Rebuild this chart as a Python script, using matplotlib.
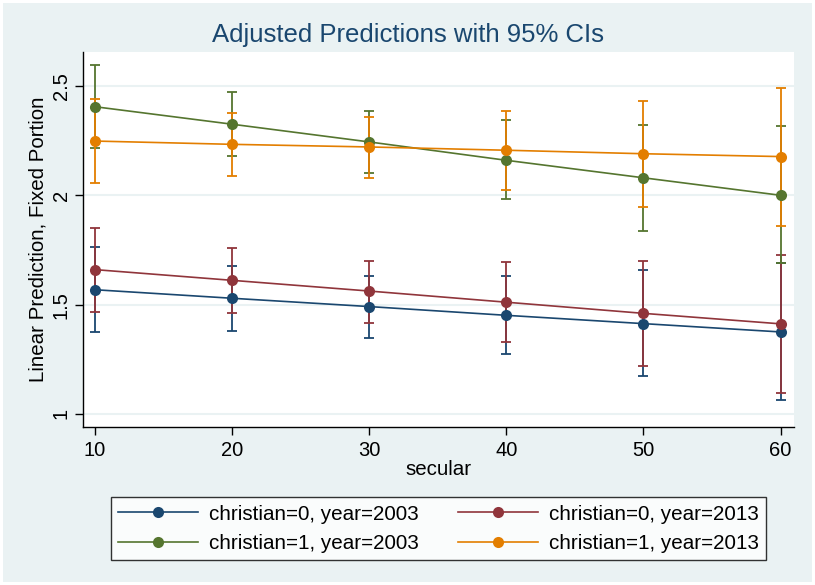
import matplotlib
matplotlib.use("Agg")
import matplotlib.pyplot as plt

# values (margins at secular = 10..60)
secular = [10, 20, 30, 40, 50, 60]

labels = ["christian=0, year=2003", "christian=0, year=2013",
          "christian=1, year=2003", "christian=1, year=2013"]

c0_2003 = [1.568, 1.529, 1.491, 1.451, 1.413, 1.375]
c0_2003_lo = [1.373, 1.380, 1.349, 1.274, 1.174, 1.063]
c0_2003_hi = [1.764, 1.678, 1.631, 1.631, 1.657, 1.692]

c0_2013 = [1.660, 1.611, 1.562, 1.511, 1.460, 1.412]
c0_2013_lo = [1.468, 1.462, 1.418, 1.329, 1.219, 1.097]
c0_2013_hi = [1.852, 1.758, 1.701, 1.694, 1.701, 1.726]

c1_2003 = [2.405, 2.325, 2.244, 2.160, 2.080, 2.000]
c1_2003_lo = [2.218, 2.180, 2.101, 1.983, 1.838, 1.689]
c1_2003_hi = [2.596, 2.471, 2.384, 2.343, 2.323, 2.315]

c1_2013 = [2.248, 2.233, 2.221, 2.206, 2.190, 2.177]
c1_2013_lo = [2.058, 2.088, 2.079, 2.026, 1.948, 1.861]
c1_2013_hi = [2.439, 2.378, 2.360, 2.384, 2.431, 2.489]

yticks = [1, 1.5, 2, 2.5]
ytick_labels = ["1", "1.5", "2", "2.5"]

# stata s2color palette
colors = ["#1a476f", "#90353b", "#55752f", "#e37e00"]
bg = "#eaf2f3"

plt.rcParams["font.family"] = ["Liberation Sans", "DejaVu Sans"]

fig = plt.figure(figsize=(8.15, 5.85), dpi=100)
fig.patch.set_facecolor(bg)
fig.patch.set_edgecolor("white")
fig.patch.set_linewidth(3)
ax = fig.add_axes([0.1015, 0.270, 0.8725, 0.641])
ax.set_facecolor("white")

series = [(c0_2003, c0_2003_lo, c0_2003_hi),
          (c0_2013, c0_2013_lo, c0_2013_hi),
          (c1_2003, c1_2003_lo, c1_2003_hi),
          (c1_2013, c1_2013_lo, c1_2013_hi)]

handles = []
for (y, lo, hi), col, lab in zip(series, colors, labels):
    ax.errorbar(secular, y,
                yerr=[[v - l for v, l in zip(y, lo)], [h - v for v, h in zip(y, hi)]],
                fmt="none", ecolor=col, elinewidth=1.3, capsize=3.8, capthick=1.3, zorder=3)
    h, = ax.plot(secular, y, color=col, linewidth=1.2, marker="o", markersize=8,
                 markeredgewidth=0, label=lab, zorder=4)
    handles.append(h)

ax.set_xlim(9.1, 60.97)
ax.set_ylim(0.94, 2.655)
ax.set_xticks(secular)
ax.set_yticks(yticks)
ax.set_yticklabels(ytick_labels)
ax.grid(axis="y", color=bg, linewidth=1.5)
ax.set_axisbelow(True)

for s in ["top", "right"]:
    ax.spines[s].set_visible(False)
for s in ["left", "bottom"]:
    ax.spines[s].set_linewidth(1.0)

ax.tick_params(axis="both", direction="out", length=5.5, width=1.0, labelsize=14.5, pad=3)
ax.tick_params(axis="x", pad=4.5)
ax.tick_params(axis="y", labelrotation=90)
for t in ax.get_yticklabels():
    t.set_va("center")

ax.set_xlabel("secular", fontsize=14.8, labelpad=0)
ax.set_ylabel("Linear Prediction, Fixed Portion", fontsize=14.8, labelpad=3)
fig.suptitle("Adjusted Predictions with 95% CIs", x=0.5, y=0.94, fontsize=18.5,
             color="#1a476f", va="center")

# stata legend: two columns, row-wise order
order = [0, 2, 1, 3]
leg = fig.legend([handles[i] for i in order], [labels[i] for i in order],
                 loc="center", bbox_to_anchor=(0.538, 0.096), ncol=2,
                 fontsize=14.9, frameon=True, fancybox=False, edgecolor="black",
                 handlelength=3.85, handletextpad=0.55, columnspacing=1.9,
                 labelspacing=0.5, borderpad=0.35)
leg.get_frame().set_linewidth(1.0)
leg.get_frame().set_facecolor("white")

fig.savefig("out.png", dpi=100, facecolor=fig.get_facecolor(), edgecolor=fig.get_edgecolor())
